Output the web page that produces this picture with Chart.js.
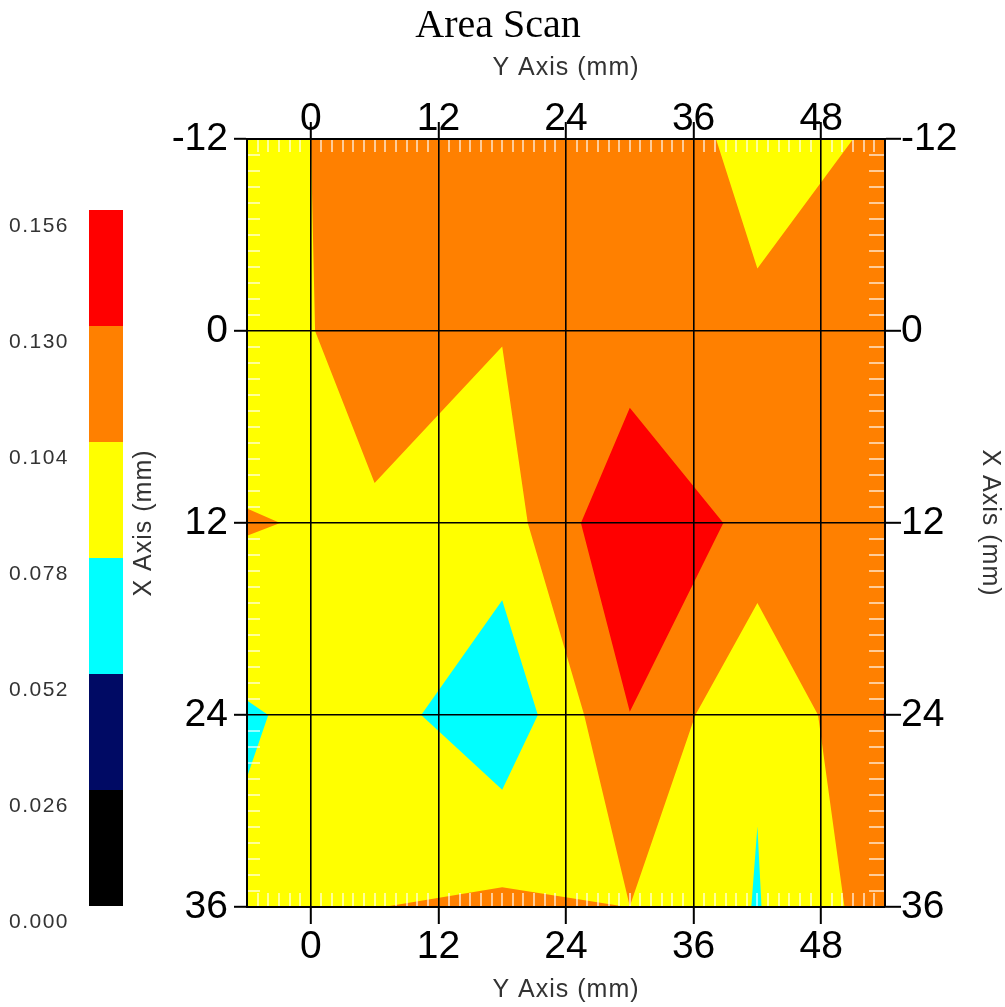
<!DOCTYPE html>
<html>
<head>
<meta charset="utf-8">
<script src="https://cdn.jsdelivr.net/npm/chart.js@4.4.1/dist/chart.umd.min.js"></script>
<style>
html,body{margin:0;padding:0;background:#fff;}
#wrap{width:1005px;height:1007px;position:relative;}
</style>
</head>
<body>
<div id="wrap"><canvas id="c" width="1005" height="1007"></canvas></div>
<script>
// ---------- data ----------
const chartTitle = 'Area Scan';
const horizAxisTitle = 'Y Axis (mm)';
const vertAxisTitle = 'X Axis (mm)';
const xPositions = [-6, 6, 18, 30, 42, 54];   // scan columns (mm)
const yPositions = [-12, 0, 12, 24, 36];      // scan rows (mm)
const rowM12 = [0.0824, 0.1256, 0.1200, 0.1165, 0.0980, 0.1060];
const row0   = [0.0793, 0.1256, 0.1051, 0.1141, 0.1069, 0.1150];
const row12  = [0.1060, 0.0983, 0.0915, 0.1539, 0.1213, 0.1180];
const row24  = [0.0757, 0.0895, 0.0580, 0.1296, 0.0798, 0.1307];
const row36  = [0.0828, 0.1036, 0.1093, 0.1039, 0.0767, 0.1167];
const thicknessRows = [rowM12, row0, row12, row24, row36];
const xRange = [-6, 54];
const yRange = [-12, 36];
const xTicks = [0, 12, 24, 36, 48];
const yTicks = [-12, 0, 12, 24, 36];
const levels = [0.000, 0.026, 0.052, 0.078, 0.104, 0.130, 0.156];
const levelLabels = ['0.000', '0.026', '0.052', '0.078', '0.104', '0.130', '0.156'];
const bandColors = ['#000000', '#000A64', '#00FFFF', '#FFFF00', '#FF8000', '#FF0000'];

// ---------- contour helpers (marching squares, straight segments) ----------
function superLevelPolys(L) {
  const polys = [];
  for (let j = 0; j < yPositions.length - 1; j++) {
    for (let i = 0; i < xPositions.length - 1; i++) {
      const P = [[xPositions[i], yPositions[j]], [xPositions[i + 1], yPositions[j]],
                 [xPositions[i + 1], yPositions[j + 1]], [xPositions[i], yPositions[j + 1]]];
      const Z = [thicknessRows[j][i], thicknessRows[j][i + 1], thicknessRows[j + 1][i + 1], thicknessRows[j + 1][i]];
      const inside = Z.map(z => z >= L);
      const n = inside.filter(Boolean).length;
      if (n === 0) continue;
      const cross = (a, b) => {
        const t = (L - Z[a]) / (Z[b] - Z[a]);
        return [P[a][0] + t * (P[b][0] - P[a][0]), P[a][1] + t * (P[b][1] - P[a][1])];
      };
      const saddle = n === 2 && inside[0] === inside[2];
      const center = (Z[0] + Z[1] + Z[2] + Z[3]) / 4;
      if (saddle && center < L) {
        for (let k = 0; k < 4; k++) if (inside[k]) {
          const p = (k + 3) % 4, q = (k + 1) % 4;
          polys.push([cross(p, k), P[k], cross(k, q)]);
        }
      } else {
        const poly = [];
        for (let k = 0; k < 4; k++) {
          const q = (k + 1) % 4;
          if (inside[k]) poly.push(P[k]);
          if (inside[k] !== inside[q]) poly.push(cross(k, q));
        }
        polys.push(poly);
      }
    }
  }
  return polys;
}

const contourPlugin = {
  id: 'contour',
  beforeDraw(chart) {
    const ctx = chart.ctx, xs = chart.scales.x, ys = chart.scales.y, a = chart.chartArea;
    ctx.save();
    ctx.beginPath();
    ctx.rect(a.left, a.top, a.right - a.left, a.bottom - a.top);
    ctx.clip();
    for (let b = 0; b < bandColors.length; b++) {
      const polys = superLevelPolys(levels[b]);
      ctx.beginPath();
      polys.forEach(poly => {
        poly.forEach((pt, k) => {
          const px = xs.getPixelForValue(pt[0]), py = ys.getPixelForValue(pt[1]);
          if (k === 0) ctx.moveTo(px, py); else ctx.lineTo(px, py);
        });
        ctx.closePath();
      });
      ctx.fillStyle = bandColors[b];
      ctx.fill('nonzero');
    }
    // minor ticks (1 mm) inside the frame
    ctx.strokeStyle = 'rgba(255,255,255,0.6)';
    ctx.lineWidth = 2;
    ctx.beginPath();
    for (let v = xRange[0] + 1; v < xRange[1]; v++) {
      if (xTicks.includes(v)) continue;
      const px = Math.round(xs.getPixelForValue(v));
      ctx.moveTo(px, a.top); ctx.lineTo(px, a.top + 13);
      ctx.moveTo(px, a.bottom); ctx.lineTo(px, a.bottom - 14);
    }
    for (let v = yRange[0] + 1; v < yRange[1]; v++) {
      if (yTicks.includes(v)) continue;
      const py = Math.round(ys.getPixelForValue(v));
      ctx.moveTo(a.left, py); ctx.lineTo(a.left + 13, py);
      ctx.moveTo(a.right, py); ctx.lineTo(a.right - 16, py);
    }
    ctx.stroke();
    ctx.restore();
  },
  afterDraw(chart) {
    const ctx = chart.ctx, a = chart.chartArea;
    ctx.save();
    // colour bar
    const barLeft = 89, barRight = 123, barBottom = a.bottom - 1, bandH = 116;
    for (let b = 0; b < bandColors.length; b++) {
      ctx.fillStyle = bandColors[b];
      ctx.fillRect(barLeft, barBottom - (b + 1) * bandH, barRight - barLeft, bandH);
    }
    ctx.fillStyle = '#333';
    ctx.font = '21px "Liberation Sans", Arial, sans-serif';
    try { ctx.letterSpacing = '1.5px'; } catch (e) {}
    ctx.textAlign = 'left';
    ctx.textBaseline = 'middle';
    levelLabels.forEach((lab, k) => {
      ctx.fillText(lab, 9, barBottom - k * bandH + 16);
    });
    // titles
    try { ctx.letterSpacing = '0px'; } catch (e) {}
    ctx.fillStyle = '#000';
    ctx.font = '40px "Liberation Serif", "Times New Roman", serif';
    ctx.textAlign = 'center';
    ctx.textBaseline = 'alphabetic';
    ctx.fillText(chartTitle, 498, 37);
    ctx.fillStyle = '#333';
    ctx.font = '25px "Liberation Sans", Arial, sans-serif';
    try { ctx.letterSpacing = '1px'; } catch (e) {}
    ctx.textBaseline = 'middle';
    const cx = (a.left + a.right) / 2, cy = (a.top + a.bottom) / 2;
    ctx.fillText(horizAxisTitle, cx, 68);
    ctx.fillText(horizAxisTitle, cx, 990);
    ctx.save();
    ctx.translate(144, cy);
    ctx.rotate(-Math.PI / 2);
    ctx.fillText(vertAxisTitle, 0, 0);
    ctx.restore();
    ctx.save();
    ctx.translate(990, cy);
    ctx.rotate(Math.PI / 2);
    ctx.fillText(vertAxisTitle, 0, 0);
    ctx.restore();
    ctx.restore();
  }
};

// ---------- chart ----------
const tickFont = { family: '"Liberation Sans", Arial, sans-serif', size: 39 };
function axis(pos, isX, primary, tickLen, pad, size) {
  return {
    type: 'linear',
    axis: isX ? 'x' : 'y',
    position: pos,
    min: isX ? xRange[0] : yRange[0],
    max: isX ? xRange[1] : yRange[1],
    reverse: !isX,
    afterBuildTicks: s => { s.ticks = (isX ? xTicks : yTicks).map(v => ({ value: v })); },
    afterFit: s => { if (isX) s.height = size; else s.width = size; },
    ticks: {
      autoSkip: false, maxRotation: 0, minRotation: 0,
      font: tickFont, color: '#000', padding: pad,
      callback: v => String(v)
    },
    grid: {
      display: true,
      drawOnChartArea: primary,
      drawTicks: true,
      tickLength: tickLen,
      color: '#000',
      lineWidth: 1.6,
      tickColor: '#000',
      tickWidth: 2
    },
    border: { display: true, color: '#000', width: 2 }
  };
}

const points = [];
yPositions.forEach((y, j) => xPositions.forEach((x, i) => points.push({ x, y, v: thicknessRows[j][i] })));

new Chart(document.getElementById('c'), {
  type: 'scatter',
  data: { datasets: [{ label: 'Thickness', data: points, pointRadius: 0, showLine: false }] },
  options: {
    responsive: false,
    animation: false,
    devicePixelRatio: 1,
    layout: { padding: 0 },
    plugins: { legend: { display: false }, tooltip: { enabled: false }, title: { display: false } },
    scales: {
      x: axis('bottom', true, true, 17, 0, 100),
      x2: axis('top', true, false, 17, -21, 139),
      y: axis('left', false, true, 13, 6, 247),
      y2: axis('right', false, false, 16, 0, 120)
    }
  },
  plugins: [contourPlugin]
});
</script>
</body>
</html>
